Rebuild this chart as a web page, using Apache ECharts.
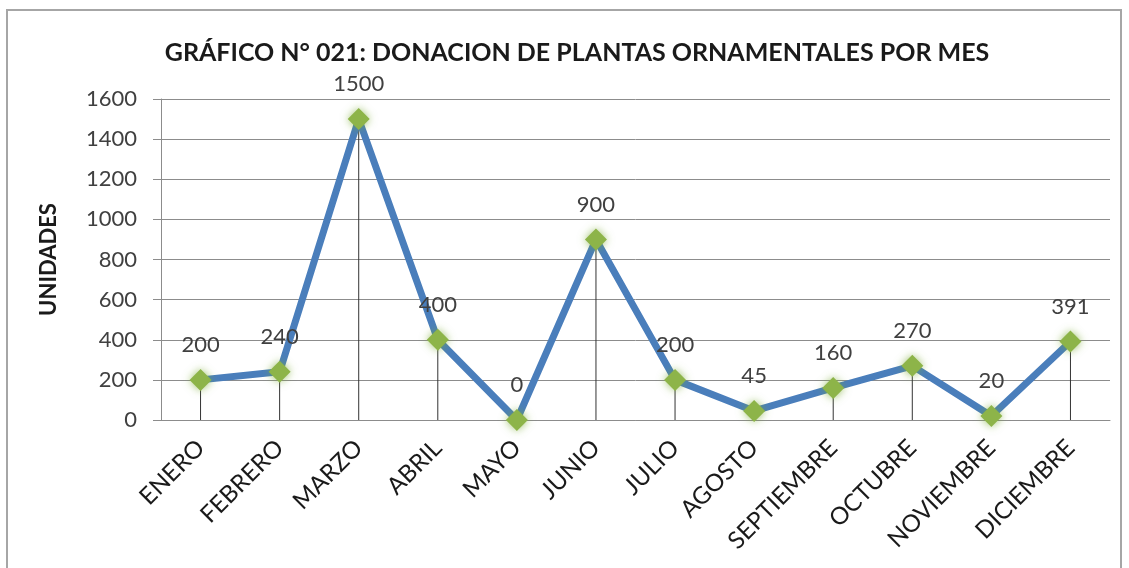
<!DOCTYPE html>
<html>
<head>
<meta charset="utf-8">
<script src="https://cdn.jsdelivr.net/npm/echarts@6/dist/echarts.min.js"></script>
<style>
  html, body { margin: 0; padding: 0; background: #fff; }
  #chart { width: 1129px; height: 568px; }
</style>
</head>
<body>
<div id="chart"></div>
<script>
// datos del gráfico
const meses = ['ENERO', 'FEBRERO', 'MARZO', 'ABRIL', 'MAYO', 'JUNIO', 'JULIO',
  'AGOSTO', 'SEPTIEMBRE', 'OCTUBRE', 'NOVIEMBRE', 'DICIEMBRE'];
const unidades = [200, 240, 1500, 400, 0, 900, 200, 45, 160, 270, 20, 391];
const ejeY = { min: 0, max: 1600, interval: 200 };

const titulo = 'GRÁFICO N° 021: DONACION DE PLANTAS ORNAMENTALES POR MES';
const nombreEjeY = 'UNIDADES';

let myChart = echarts.init(document.getElementById('chart'));

let option = {
  animation: false,
  title: {
    text: titulo,
    left: 572,
    textAlign: 'center',
    top: 35,
    textStyle: {
      fontFamily: 'Lato',
      fontSize: 25,
      fontWeight: 'bold',
      color: '#1a1a1a'
    }
  },
  graphic: [{
    type: 'rect',
    shape: { x: 7, y: 10, width: 1114, height: 570 },
    style: { fill: 'none', stroke: '#a6a6a6', lineWidth: 2 },
    silent: true
  }],
  grid: { left: 161, right: 19, top: 99, bottom: 148 },
  xAxis: {
    type: 'category',
    data: meses,
    boundaryGap: true,
    axisLine: { lineStyle: { color: '#8c8c8c', width: 1 } },
    axisTick: { show: false },
    axisLabel: {
      interval: 0,
      rotate: 45,
      margin: 24,
      fontFamily: 'Lato',
      fontSize: 24,
      color: '#1a1a1a'
    }
  },
  yAxis: {
    type: 'value',
    min: ejeY.min,
    max: ejeY.max,
    interval: ejeY.interval,
    name: nombreEjeY,
    nameLocation: 'middle',
    nameGap: 101,
    nameTextStyle: {
      fontFamily: 'Lato',
      fontSize: 22,
      fontWeight: 'bold',
      color: '#1a1a1a'
    },
    axisLine: { show: true, lineStyle: { color: '#8c8c8c' } },
    axisTick: { show: true, length: 8, lineStyle: { color: '#8c8c8c' } },
    axisLabel: {
      margin: 24,
      fontFamily: 'Lato',
      fontSize: 22,
      color: '#404040',
      formatter: function (v) { return String(v); }
    },
    splitLine: { lineStyle: { color: '#8c8c8c', width: 1 } }
  },
  series: [
    {
      // líneas de caída
      type: 'bar',
      data: unidades,
      barWidth: 1,
      itemStyle: { color: '#333333' },
      z: 1,
      silent: true
    },
    {
      type: 'line',
      data: unidades,
      z: 3,
      lineStyle: { color: '#4a7ebb', width: 7 },
      symbol: 'diamond',
      symbolSize: 22,
      itemStyle: {
        color: '#8db449',
        shadowColor: 'rgba(120,170,50,0.7)',
        shadowBlur: 8
      },
      label: {
        show: true,
        position: 'top',
        distance: 13,
        fontFamily: 'Lato',
        fontSize: 22,
        color: '#404040'
      }
    }
  ]
};
myChart.setOption(option);
window.addEventListener('resize', function () { myChart.resize(); });
</script>
</body>
</html>
